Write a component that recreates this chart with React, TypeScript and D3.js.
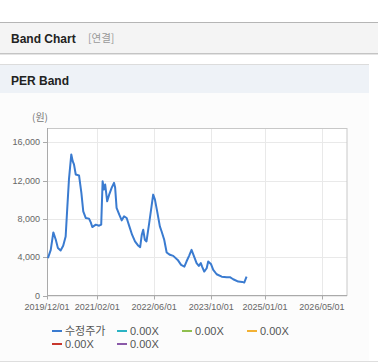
import React from "react";
import * as d3 from "d3";

const dates = [
  "2019-12-09","2020-01-02","2020-01-24","2020-02-14","2020-03-03","2020-03-26","2020-04-17","2020-05-08",
  "2020-05-21","2020-06-05","2020-06-25","2020-07-07","2020-07-18","2020-08-02","2020-08-30","2020-09-19",
  "2020-10-05","2020-10-26","2020-11-23","2020-12-08","2020-12-21","2021-01-20","2021-02-17","2021-03-07",
  "2021-03-19","2021-03-30","2021-04-10","2021-04-27","2021-05-14","2021-06-04","2021-06-24","2021-07-04",
  "2021-07-16","2021-08-08","2021-08-29","2021-09-18","2021-10-10","2021-11-02","2021-11-25","2021-12-20",
  "2022-01-18","2022-02-02","2022-02-16","2022-02-28","2022-03-14","2022-03-28","2022-04-20","2022-05-10",
  "2022-05-24","2022-06-08","2022-06-27","2022-07-20","2022-08-04","2022-08-26","2022-09-16","2022-10-14",
  "2022-11-11","2022-12-19","2023-01-17","2023-02-14","2023-03-04","2023-03-26","2023-04-16","2023-05-08",
  "2023-05-29","2023-06-17","2023-07-04","2023-07-15","2023-08-02","2023-08-23","2023-09-05","2023-09-28",
  "2023-10-18","2023-11-16","2023-12-29","2024-02-10","2024-03-08","2024-04-05","2024-05-18","2024-06-21",
  "2024-07-08","2024-07-28",
];
const prices = [
  3900,4770,6590,5820,4950,4700,5190,6170,
  8970,12100,14740,14030,13700,12640,12540,10720,
  8790,8100,8030,7640,7150,7400,7290,7400,
  11940,11070,11590,9840,10540,11250,11770,11250,
  9150,8440,7850,8270,8100,7220,6350,5650,
  5190,5050,6350,6870,5820,5650,7570,9320,
  10540,10020,8790,7220,6690,5820,4490,4250,
  4140,3720,3200,3020,3550,4140,4770,4070,
  3380,3090,3380,3020,2500,2850,3550,3300,
  2670,2220,1970,1910,1910,1700,1450,1420,
  1350,1970,3200,
];
const yTicks = [0, 4000, 8000, 12000, 16000];
const xTickDates = ["2019-12-01","2021-02-01","2022-06-01","2023-10-01","2025-01-01","2026-05-01"];
const xTickLabels = ["2019/12/01","2021/02/01","2022/06/01","2023/10/01","2025/01/01","2026/05/01"];
const legendLabels = ["수정주가","0.00X","0.00X","0.00X","0.00X","0.00X"];
const legendColors = ["#3a7bd0","#2bb3c4","#8fbf4f","#f2b134","#c8372d","#8a5aa8"];

const FONT = "'Liberation Sans', Arial, 'Noto Sans CJK KR', sans-serif";
const KFONT = "'Noto Sans CJK KR', 'Liberation Sans', sans-serif";

export default function App() {
  const parse = d3.timeParse("%Y-%m-%d");
  const x = d3.scaleTime()
    .domain([parse("2019-12-01")!, parse("2026-12-01")!])
    .range([47, 347]);
  const y = d3.scaleLinear().domain([0, 17500]).range([295.5, 128]);
  const data = dates.map((d, i) => ({ d: parse(d)!, v: prices[i] }));
  const line = d3.line<{ d: Date; v: number }>()
    .x((p) => x(p.d))
    .y((p) => y(p.v));

  const legendPos = [
    [52, 331], [117, 331], [182, 331], [247, 331],
    [52, 344], [117, 344],
  ];

  return (
    <div style={{ position: "absolute", left: 0, top: 0 }}>
      <svg width={378} height={364} style={{ display: "block" }}>
        <rect x={0} y={0} width={378} height={364} fill="#ffffff" />
        {/* header bar */}
        <rect x={0} y={22} width={378} height={1} fill="#b5b5b5" />
        <rect x={0} y={23} width={378} height={30} fill="#f4f4f4" />
        <rect x={0} y={53} width={378} height={1} fill="#c4c4c4" />
        <rect x={0} y={54} width={378} height={1} fill="#e4e4e4" />
        <text x={11} y={42.5} fontFamily={FONT} fontWeight="bold" fontSize={12} fill="#222">Band Chart</text>
        <text x={88} y={42} fontFamily={KFONT} fontSize={10.5} fill="#999">[연결]</text>
        {/* section */}
        <rect x={0} y={64} width={369} height={1} fill="#dcdcdc" />
        <rect x={0} y={65} width={369} height={28} fill="#eef2f7" />
        <rect x={0} y={93} width={369} height={268} fill="#fcfcfc" />
        <rect x={0} y={361} width={378} height={1} fill="#dedede" />
        <text x={11} y={84.5} fontFamily={FONT} fontWeight="bold" fontSize={12} fill="#222">PER Band</text>
        {/* plot */}
        <rect x={47} y={128} width={300} height={167.5} fill="#ffffff" />
        {yTicks.map((t) => (
          <line key={"gy" + t} x1={47} x2={347} y1={Math.round(y(t)) + 0.5} y2={Math.round(y(t)) + 0.5} stroke="#e9e9e9" />
        ))}
        {xTickDates.map((t) => (
          <line key={"gx" + t} x1={Math.round(x(parse(t)!)) + 0.5} x2={Math.round(x(parse(t)!)) + 0.5} y1={128} y2={295.5} stroke="#e9e9e9" />
        ))}
        <rect x={47.5} y={128.5} width={299.5} height={167} fill="none" stroke="#c8c8c8" />
        <line x1={47.5} x2={47.5} y1={128} y2={296} stroke="#aaaaaa" />
        <line x1={47} x2={347} y1={295.5} y2={295.5} stroke="#aaaaaa" />
        {yTicks.map((t) => (
          <g key={"ty" + t}>
            <line x1={43} x2={47} y1={Math.round(y(t)) + 0.5} y2={Math.round(y(t)) + 0.5} stroke="#aaaaaa" />
            <text x={40} y={y(t) + 3} textAnchor="end" fontFamily={FONT} fontSize={9} fill="#666">
              {d3.format(",")(t)}
            </text>
          </g>
        ))}
        {xTickDates.map((t, i) => (
          <g key={"tx" + t}>
            <line x1={Math.round(x(parse(t)!)) + 0.5} x2={Math.round(x(parse(t)!)) + 0.5} y1={295.5} y2={299.5} stroke="#aaaaaa" />
            <text x={x(parse(t)!)} y={310} textAnchor="middle" fontFamily={FONT} fontSize={9} fill="#666">
              {xTickLabels[i]}
            </text>
          </g>
        ))}
        <text x={32} y={121} fontFamily={KFONT} fontSize={10} fill="#777">(원)</text>
        <path d={line(data) || ""} fill="none" stroke="#3a7bd0" strokeWidth={2} strokeLinejoin="round" />
        {/* legend */}
        {legendLabels.map((l, i) => (
          <g key={"lg" + i}>
            <line x1={legendPos[i][0]} x2={legendPos[i][0] + 10} y1={legendPos[i][1]} y2={legendPos[i][1]} stroke={legendColors[i]} strokeWidth={2} />
            <text x={legendPos[i][0] + 13} y={legendPos[i][1] + 4} fontFamily={i === 0 ? KFONT : FONT} fontSize={11} fill="#555">
              {l}
            </text>
          </g>
        ))}
      </svg>
    </div>
  );
}
